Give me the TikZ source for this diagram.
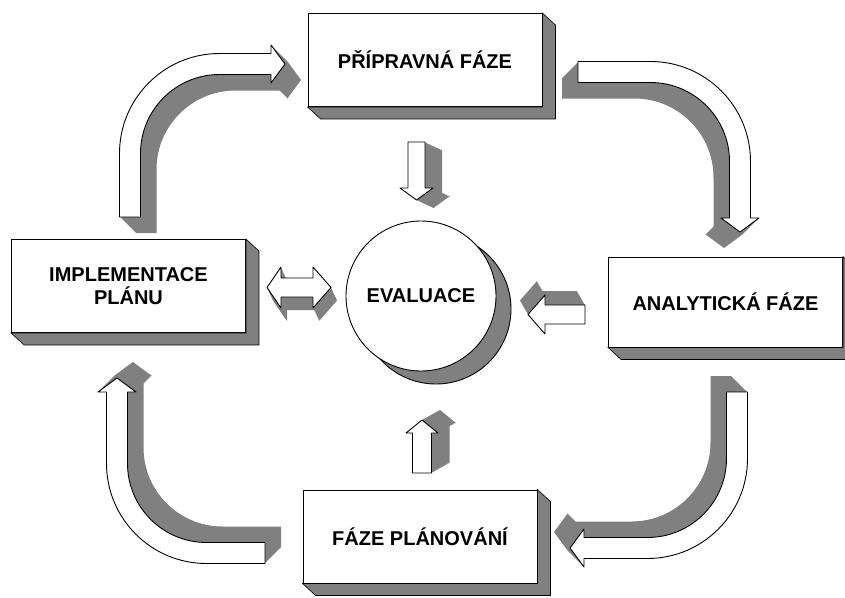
\documentclass[tikz,border=0pt]{standalone}
\usepackage{fontspec}
\setmainfont{Liberation Sans}
\usetikzlibrary{calc}

% 3D block: gray depth copies, then white front face
\newcommand{\klotz}[3]{%
  \foreach \i in {16,...,1}{\fill[schatten, shift={(#1*\i/16,#2*\i/16)}] #3;}
  \draw[front] #3;}
% curved block arrow: #1 corner, #2 rotation, #3 tail, #4 tip, #5 depth
\newcommand{\bogenpfeil}[5]{%
  \begin{scope}[shift={#1}, rotate=#2]
    \klotz{#5}{#5}{(-10.5,#3) -- (-10.5,89.5)
      .. controls (-10.5,34.3) and (34.3,-10.5) .. (89.5,-10.5)
      -- (#4-14,-10.5) -- (#4-14,-19) -- (#4,0) -- (#4-14,19) -- (#4-14,10.5)
      -- (89.5,10.5) .. controls (45.9,10.5) and (10.5,45.9) .. (10.5,89.5)
      -- (10.5,#3) -- cycle}
  \end{scope}}
% depth faces of a box
\newcommand{\tiefe}[1]{%
  \filldraw[schatten, draw=black, line width=0.6pt] (#1.north east) -- ++(13,12)
    -- ($(#1.south east)+(13,12)$) -- ($(#1.south west)+(13,12)$)
    -- (#1.south west) -- (#1.south east) -- cycle;}

\begin{document}
\begin{tikzpicture}[x=1pt, y=-1pt,
  kasten/.style={draw, fill=white, line width=0.9pt, minimum width=234pt,
                 minimum height=93pt, inner sep=0pt, align=center,
                 font=\fontsize{20}{23}\selectfont\bfseries},
  kugel/.style={circle, draw, line width=0.9pt, minimum size=150pt, inner sep=0pt,
                font=\fontsize{20}{23}\selectfont\bfseries},
  schatten/.style={fill=black!50},
  front/.style={fill=white, draw=black, line width=0.9pt, line join=round}]
  \useasboundingbox (0,0) rectangle (845,597);

  % curved arrows of the cycle
  \bogenpfeil{(130,64)}{0}{153}{155}{16}
  \bogenpfeil{(740,72)}{-90}{162}{160}{16}
  \bogenpfeil{(737,548)}{180}{156}{167}{16}
  \bogenpfeil{(117,553)}{90}{148}{175}{16}

  % phases
  \node[kasten] (prip) at (425,60) {PŘÍPRAVNÁ FÁZE};
  \node[kasten] (impl) at (128.5,286) {IMPLEMENTACE\\PLÁNU};
  \node[kasten, minimum height=90pt] (anal) at (725.5,302) {ANALYTICKÁ FÁZE};
  \node[kasten] (plan) at (420,536.5) {FÁZE PLÁNOVÁNÍ};
  \tiefe{prip}
  \tiefe{impl}
  \tiefe{anal}
  \tiefe{plan}

  % evaluation
  \node[kugel, fill=black!50] (evalschatten) at (436,309) {};
  \node[kugel, fill=white] (eval) at (421,296) {EVALUACE};

  % small arrows towards the evaluation
  \klotz{17}{8}{(408,142) -- (425,142) -- (425,188) -- (433,188) -- (416.5,200)
    -- (400,188) -- (408,188) -- cycle}
  \klotz{18}{-10}{(412.5,473) -- (431.5,473) -- (431.5,433) -- (438,433)
    -- (422,420) -- (406,433) -- (412.5,433) -- cycle}
  \klotz{-8}{-14}{(585,305) -- (585,324) -- (545,324) -- (545,334) -- (528,314.5)
    -- (545,295) -- (545,305) -- cycle}
  \klotz{6}{13}{(281,278) -- (313,278) -- (313,267) -- (331,287.5) -- (313,308)
    -- (313,297) -- (281,297) -- (281,308) -- (267,287.5) -- (281,267) -- cycle}
\end{tikzpicture}
\end{document}
